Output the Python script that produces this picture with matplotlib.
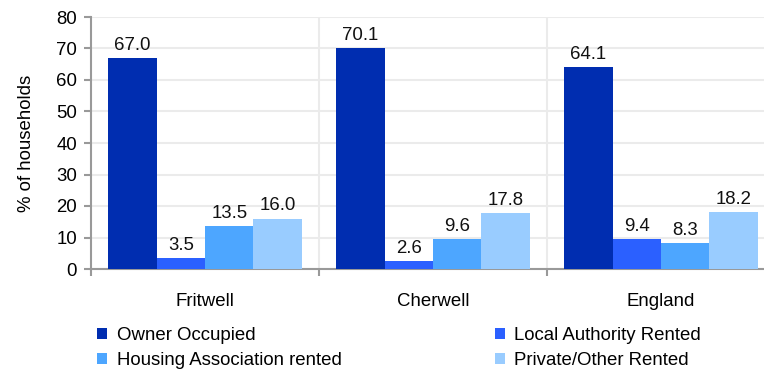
import matplotlib
matplotlib.use("Agg")
import matplotlib.pyplot as plt
import numpy as np
from matplotlib.patches import Patch

plt.rcParams['font.family'] = ['Liberation Sans', 'DejaVu Sans']

categories = ["Fritwell", "Cherwell", "England"]
series_names = ["Owner Occupied", "Local Authority Rented",
                "Housing Association rented", "Private/Other Rented"]
owner = [67.0, 70.1, 64.1]
local_auth = [3.5, 2.6, 9.4]
housing_assoc = [13.5, 9.6, 8.3]
private_other = [16.0, 17.8, 18.2]
y_ticks = [0, 10, 20, 30, 40, 50, 60, 70, 80]

values = [owner, local_auth, housing_assoc, private_other]
colors = ["#002DB0", "#2B60FF", "#4DA6FF", "#99CCFF"]

fig = plt.figure(figsize=(7.64, 3.72), dpi=100)
ax = fig.add_axes([91/764, 1-269/372, (764-91)/764, (269-17)/372])

fs = 13.4
n = len(series_names)
bw = 0.85 / n
x = np.arange(len(categories))
for i, (vals, c) in enumerate(zip(values, colors)):
    pos = x - 0.425 + bw * (i + 0.5)
    bars = ax.bar(pos, vals, width=bw, color=c, zorder=3, linewidth=0)
    for b, v in zip(bars, vals):
        ax.annotate(f"{v:.1f}", (b.get_x() + b.get_width()/2, v),
                    xytext=(0, 3), textcoords="offset points",
                    ha="center", va="bottom", fontsize=fs, color="#111111")

ax.set_ylim(0, 80)
ax.set_yticks(y_ticks)
ax.set_xlim(-0.5, 2.5 - 11/228)
ax.yaxis.grid(True, color="#ebebeb", linewidth=1.5, zorder=0)
for sep in [0.5, 1.5]:
    ax.axvline(sep, color="#ebebeb", linewidth=1.5, zorder=0)

ax.set_xticks(x)
ax.set_xticklabels(categories, fontsize=fs)
ax.set_xticks([-0.5, 0.5, 1.5], minor=True)
ax.tick_params(axis="x", which="major", length=0, pad=17)
ax.tick_params(axis="x", which="minor", length=5, color="#999999", width=1.5, direction="out")
ax.tick_params(axis="y", length=5, color="#999999", width=1.5, labelsize=fs, pad=5)

for s in ["top", "right"]:
    ax.spines[s].set_visible(False)
for s in ["left", "bottom"]:
    ax.spines[s].set_color("#999999")
    ax.spines[s].set_linewidth(1.5)

ax.set_ylabel("% of households", fontsize=fs, labelpad=15)

handles = [Patch(facecolor=colors[k], label=series_names[k]) for k in [0, 2, 1, 3]]
fig.legend(handles=handles, loc="upper left", bbox_to_anchor=(97/764, 1-327/372),
           ncol=2, frameon=False, fontsize=fs, handlelength=0.55, handleheight=0.55,
           handletextpad=0.5, columnspacing=8.25, labelspacing=0.42, borderaxespad=0,
           borderpad=0)

fig.savefig("out.png", dpi=100)
